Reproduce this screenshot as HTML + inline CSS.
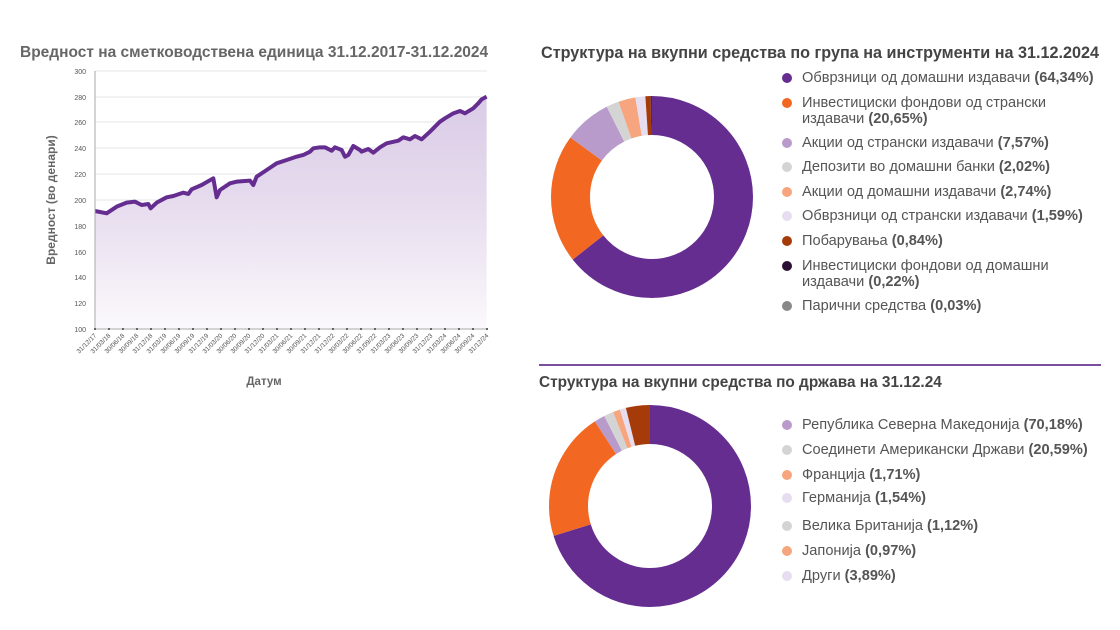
<!DOCTYPE html>
<html><head><meta charset="utf-8"><style>
body{margin:0;width:1120px;height:630px;background:#fff;font-family:"Liberation Sans",sans-serif;position:relative;overflow:hidden}
.t{position:absolute;font-weight:bold;font-size:15px;white-space:nowrap}
.lg{position:absolute;left:802px;font-size:14.6px;color:#555;line-height:16px;white-space:nowrap}
.lg b{color:#555}
.d{position:absolute;left:782px;width:10px;height:10px;border-radius:50%}
</style></head><body>
<div class="t" style="left:20px;top:44px;color:#666;font-size:15.5px">Вредност на сметководствена единица 31.12.2017-31.12.2024</div>
<div class="t" style="left:541px;top:44px;color:#444;font-size:16.2px">Структура на вкупни средства по група на инструменти на 31.12.2024</div>
<div class="t" style="left:539px;top:374px;color:#444;font-size:15.4px">Структура на вкупни средства по држава на 31.12.24</div>
<div style="position:absolute;left:539px;top:364px;width:562px;height:2px;background:#7b4fa0"></div>

<svg width="1120" height="630" style="position:absolute;left:0;top:0">
<defs><linearGradient id="g" x1="0" y1="0" x2="0" y2="1"><stop offset="0" stop-color="#d9cbe6"/><stop offset="0.5" stop-color="#e8deef"/><stop offset="1" stop-color="#fbf9fc"/></linearGradient></defs>
<g font-size="7" fill="#555" text-anchor="end">
<g stroke="#e6e6e6" stroke-width="1">
<line x1="95" x2="487" y1="71" y2="71"/><line x1="95" x2="487" y1="97" y2="97"/><line x1="95" x2="487" y1="122" y2="122"/><line x1="95" x2="487" y1="148" y2="148"/><line x1="95" x2="487" y1="174" y2="174"/><line x1="95" x2="487" y1="200" y2="200"/><line x1="95" x2="487" y1="226" y2="226"/><line x1="95" x2="487" y1="252" y2="252"/><line x1="95" x2="487" y1="277" y2="277"/><line x1="95" x2="487" y1="303" y2="303"/>
</g>
<text x="86" y="74">300</text><text x="86" y="100">280</text><text x="86" y="125">260</text><text x="86" y="151">240</text><text x="86" y="177">220</text><text x="86" y="203">200</text><text x="86" y="229">180</text><text x="86" y="255">160</text><text x="86" y="280">140</text><text x="86" y="306">120</text><text x="86" y="332">100</text>
</g>
<g transform="translate(20,60) scale(0.3333)">
<path fill="url(#g)" d="M225,453 L260,460 290,440 320,428 345,425 365,435 385,432 392,445 410,428 440,412 460,408 490,398 505,402 515,388 545,375 580,355 590,412 600,390 630,370 650,365 690,362 700,375 710,350 740,330 770,310 800,300 830,290 850,285 870,275 880,265 900,262 915,262 935,272 945,262 965,270 975,290 985,285 1000,258 1020,270 1025,275 1045,267 1060,278 1080,262 1100,250 1135,242 1150,232 1170,238 1185,228 1205,238 1230,215 1260,185 1275,175 1300,160 1320,153 1335,160 1360,145 1375,130 1385,118 1400,110 L1400,808 L225,808Z"/>
<path fill="none" stroke="#662d91" stroke-width="12" stroke-linejoin="round" d="M225,453 L260,460 290,440 320,428 345,425 365,435 385,432 392,445 410,428 440,412 460,408 490,398 505,402 515,388 545,375 580,355 590,412 600,390 630,370 650,365 690,362 700,375 710,350 740,330 770,310 800,300 830,290 850,285 870,275 880,265 900,262 915,262 935,272 945,262 965,270 975,290 985,285 1000,258 1020,270 1025,275 1045,267 1060,278 1080,262 1100,250 1135,242 1150,232 1170,238 1185,228 1205,238 1230,215 1260,185 1275,175 1300,160 1320,153 1335,160 1360,145 1375,130 1385,118 1400,110"/>
</g>
<line x1="95" y1="71" x2="95" y2="329" stroke="#aaa"/>
<line x1="95" y1="329" x2="487" y2="329" stroke="#aaa"/>
<g font-size="6.5" fill="#555" text-anchor="end">
<text transform="translate(97,336) rotate(-45)">31/12/17</text><text transform="translate(111,336) rotate(-45)">31/03/18</text><text transform="translate(125,336) rotate(-45)">30/06/18</text><text transform="translate(139,336) rotate(-45)">30/09/18</text><text transform="translate(153,336) rotate(-45)">31/12/18</text><text transform="translate(167,336) rotate(-45)">31/03/19</text><text transform="translate(181,336) rotate(-45)">30/06/19</text><text transform="translate(195,336) rotate(-45)">30/09/19</text><text transform="translate(209,336) rotate(-45)">31/12/19</text><text transform="translate(223,336) rotate(-45)">31/03/20</text><text transform="translate(237,336) rotate(-45)">30/06/20</text><text transform="translate(251,336) rotate(-45)">30/09/20</text><text transform="translate(265,336) rotate(-45)">31/12/20</text><text transform="translate(279,336) rotate(-45)">31/03/21</text><text transform="translate(293,336) rotate(-45)">30/06/21</text><text transform="translate(307,336) rotate(-45)">30/09/21</text><text transform="translate(321,336) rotate(-45)">31/12/21</text><text transform="translate(335,336) rotate(-45)">31/12/22</text><text transform="translate(349,336) rotate(-45)">30/03/22</text><text transform="translate(363,336) rotate(-45)">30/06/22</text><text transform="translate(377,336) rotate(-45)">31/09/22</text><text transform="translate(391,336) rotate(-45)">31/03/23</text><text transform="translate(405,336) rotate(-45)">30/06/23</text><text transform="translate(419,336) rotate(-45)">30/09/23</text><text transform="translate(433,336) rotate(-45)">31/12/23</text><text transform="translate(447,336) rotate(-45)">31/03/24</text><text transform="translate(461,336) rotate(-45)">30/06/24</text><text transform="translate(475,336) rotate(-45)">30/09/24</text><text transform="translate(489,336) rotate(-45)">31/12/24</text>
</g>
<g stroke="#666" stroke-width="2" stroke-dasharray="2 12" fill="none"><line x1="94" y1="329" x2="490" y2="329"/></g>
<text x="264" y="385" font-size="11.5" font-weight="bold" fill="#666" text-anchor="middle">Датум</text>
<text transform="translate(55,200) rotate(-90)" font-size="12" font-weight="bold" fill="#666" text-anchor="middle">Вредност (во денари)</text>

<g transform="translate(652,197) rotate(-90)" fill="none" stroke-width="39">
<circle r="81.5" stroke="#662d91" stroke-dasharray="329.47 600" stroke-dashoffset="0"/>
<circle r="81.5" stroke="#f26722" stroke-dasharray="105.75 600" stroke-dashoffset="-329.47"/>
<circle r="81.5" stroke="#b89bcb" stroke-dasharray="38.76 600" stroke-dashoffset="-435.22"/>
<circle r="81.5" stroke="#d4d4d4" stroke-dasharray="10.34 600" stroke-dashoffset="-473.98"/>
<circle r="81.5" stroke="#f6a57e" stroke-dasharray="14.03 600" stroke-dashoffset="-484.32"/>
<circle r="81.5" stroke="#e6def0" stroke-dasharray="8.14 600" stroke-dashoffset="-498.35"/>
<circle r="81.5" stroke="#a63b0a" stroke-dasharray="4.30 600" stroke-dashoffset="-506.49"/>
<circle r="81.5" stroke="#2b1035" stroke-dasharray="1.13 600" stroke-dashoffset="-510.79"/>
<circle r="81.5" stroke="#888" stroke-dasharray="0.5 600" stroke-dashoffset="-511.6"/>
</g>
<g transform="translate(650,506) rotate(-90)" fill="none" stroke-width="39">
<circle r="81.5" stroke="#662d91" stroke-dasharray="359.38 600" stroke-dashoffset="0"/>
<circle r="81.5" stroke="#f26722" stroke-dasharray="105.44 600" stroke-dashoffset="-359.38"/>
<circle r="81.5" stroke="#b89bcb" stroke-dasharray="8.76 600" stroke-dashoffset="-464.82"/>
<circle r="81.5" stroke="#d4d4d4" stroke-dasharray="7.89 600" stroke-dashoffset="-473.58"/>
<circle r="81.5" stroke="#f6a57e" stroke-dasharray="5.74 600" stroke-dashoffset="-481.47"/>
<circle r="81.5" stroke="#e6def0" stroke-dasharray="4.97 600" stroke-dashoffset="-487.21"/>
<circle r="81.5" stroke="#a63b0a" stroke-dasharray="19.92 600" stroke-dashoffset="-492.18"/>
</g>
</svg>

<div class="d" style="top:73px;background:#662d91"></div><div class="lg" style="top:70px">Обврзници од домашни издавачи <b>(64,34%)</b></div>
<div class="d" style="top:98px;background:#f26722"></div><div class="lg" style="top:95px">Инвестициски фондови од странски<br>издавачи <b>(20,65%)</b></div>
<div class="d" style="top:138px;background:#b89bcb"></div><div class="lg" style="top:135px">Акции од странски издавачи <b>(7,57%)</b></div>
<div class="d" style="top:162px;background:#d4d4d4"></div><div class="lg" style="top:159px">Депозити во домашни банки <b>(2,02%)</b></div>
<div class="d" style="top:187px;background:#f6a57e"></div><div class="lg" style="top:184px">Акции од домашни издавачи <b>(2,74%)</b></div>
<div class="d" style="top:211px;background:#e6def0"></div><div class="lg" style="top:208px">Обврзници од странски издавачи <b>(1,59%)</b></div>
<div class="d" style="top:236px;background:#a63b0a"></div><div class="lg" style="top:233px">Побарувања <b>(0,84%)</b></div>
<div class="d" style="top:261px;background:#2b1035"></div><div class="lg" style="top:258px">Инвестициски фондови од домашни<br>издавачи <b>(0,22%)</b></div>
<div class="d" style="top:301px;background:#888"></div><div class="lg" style="top:298px">Парични средства <b>(0,03%)</b></div>

<div class="d" style="top:420px;background:#b89bcb"></div><div class="lg" style="top:417px">Република Северна Македонија <b>(70,18%)</b></div>
<div class="d" style="top:445px;background:#d4d4d4"></div><div class="lg" style="top:442px">Соединети Американски Држави <b>(20,59%)</b></div>
<div class="d" style="top:470px;background:#f6a57e"></div><div class="lg" style="top:467px">Франција <b>(1,71%)</b></div>
<div class="d" style="top:493px;background:#e6def0"></div><div class="lg" style="top:490px">Германија <b>(1,54%)</b></div>
<div class="d" style="top:521px;background:#d4d4d4"></div><div class="lg" style="top:518px">Велика Британија <b>(1,12%)</b></div>
<div class="d" style="top:546px;background:#f6a57e"></div><div class="lg" style="top:543px">Јапонија <b>(0,97%)</b></div>
<div class="d" style="top:571px;background:#e6def0"></div><div class="lg" style="top:568px">Други <b>(3,89%)</b></div>
</body></html>
